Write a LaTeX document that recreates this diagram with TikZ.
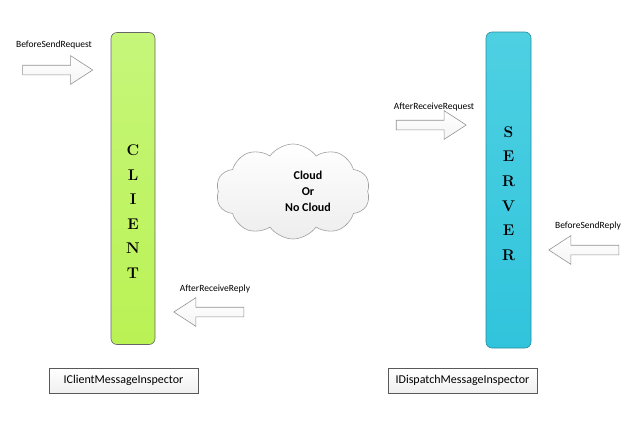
\documentclass[tikz,border=0pt]{standalone}
\usepackage{fontspec}
\newfontfamily\calfont{Carlito}
\usetikzlibrary{shapes.arrows,shapes.symbols}
\begin{document}
\begin{tikzpicture}[x=1pt,y=-1pt,
  bar/.style={draw=gray!80!black, line width=0.6pt, rounded corners=6pt},
  hollowarrow/.style={single arrow, draw=gray!85, line width=0.6pt, top color=white, bottom color=gray!8,
     minimum height=70pt, inner xsep=0pt, inner ysep=4.5pt, single arrow head extend=9.5pt,
     single arrow tip angle=66, anchor=center},
  lbl/.style={font=\calfont\fontsize{9.5}{11}\selectfont, inner sep=0pt},
  ibox/.style={draw=gray!70!black, line width=0.5pt, top color=white, bottom color=gray!12,
     minimum width=149pt, minimum height=25pt, inner sep=0pt, font=\calfont\fontsize{12}{14}\selectfont},
  letters/.style={align=center, font=\bfseries\fontsize{15.5}{24.6}\selectfont, inner sep=0pt}]
\useasboundingbox (0,0) rectangle (640,421);
% bars
\node[bar, top color={rgb,255:red,198;green,246;blue,122}, bottom color={rgb,255:red,186;green,242;blue,84},
  minimum width=44pt, minimum height=312pt, inner sep=0pt] (client) at (133,188.5) {};
\node[bar, draw={rgb,255:red,40;green,140;blue,160}, top color={rgb,255:red,78;green,208;blue,226}, bottom color={rgb,255:red,48;green,196;blue,220},
  minimum width=45pt, minimum height=316pt, inner sep=0pt] (server) at (508.5,190) {};
\node[letters] (clienttxt) at (133,211.5) {C\\L\\I\\E\\N\\T};
\node[letters] (servertxt) at (508.5,193.5) {S\\E\\R\\V\\E\\R};
% cloud
\node[cloud, cloud puffs=10, cloud puff arc=110, aspect=1.65, draw=gray!75, line width=0.6pt,
  top color=white, bottom color=gray!14, minimum width=154pt, minimum height=95pt, inner sep=0pt] (cloud) at (293,191.5) {};
\node[align=center, font=\calfont\bfseries\fontsize{12}{16}\selectfont, inner sep=0pt] (cloudtxt) at (308,191) {Cloud\\Or\\No Cloud};
% arrows
\node[hollowarrow] (a1) at (54,70) {};
\node[lbl] (l1) at (54,45) {BeforeSendRequest};
\node[hollowarrow] (a2) at (427.5,125) {};
\node[lbl] (l2) at (434,107) {AfterReceiveRequest};
\node[hollowarrow, shape border rotate=180] (a3) at (587.5,250) {};
\node[lbl] (l3) at (588,226) {BeforeSendReply};
\node[hollowarrow, shape border rotate=180] (a4) at (212.5,312) {};
\node[lbl] (l4) at (215,289) {AfterReceiveReply};
% boxes
\node[ibox] (b1) at (123.5,380.5) {IClientMessageInspector};
\node[ibox] (b2) at (462.5,380.5) {IDispatchMessageInspector};
\end{tikzpicture}
\end{document}
